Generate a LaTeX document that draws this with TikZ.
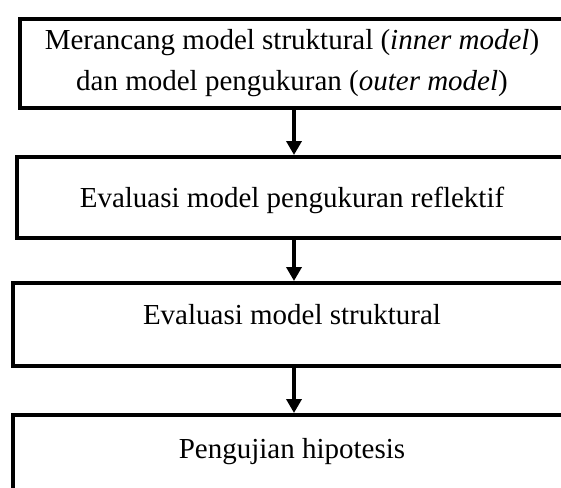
\documentclass[tikz,border=0pt]{standalone}
\usepackage{fontspec}
\setmainfont{Liberation Serif}
\usetikzlibrary{arrows.meta}
\begin{document}
\begin{tikzpicture}[x=1pt,y=-1pt,
  box/.style={draw, line width=4pt, inner sep=0pt, anchor=north west},
  lbl/.style={font=\fontsize{29}{40}\selectfont, inner sep=0pt, anchor=base},
  flow/.style={line width=3.5pt, -{Triangle[length=14pt,width=15pt]}}]
\useasboundingbox (0,0) rectangle (561,487);
\clip (0,0) rectangle (561,487);
\node[box, minimum width=548pt, minimum height=89pt] (b1) at (18,17) {};
\node[box, minimum width=554pt, minimum height=81pt] (b2) at (15,155) {};
\node[box, minimum width=562pt, minimum height=83pt] (b3) at (11,281) {};
\node[box, minimum width=562pt, minimum height=110pt] (b4) at (11,413) {};
\node[lbl] (t1a) at (292,49) {Merancang model struktural (\textit{inner model})};
\node[lbl] (t1b) at (292,90) {dan model pengukuran (\textit{outer model})};
\node[lbl] (t2) at (292,207) {Evaluasi model pengukuran reflektif};
\node[lbl] (t3) at (292,324) {Evaluasi model struktural};
\node[lbl] (t4) at (292,458) {Pengujian hipotesis};
\draw[flow] (b1.south) -- (b2.north);
\draw[flow] (b2.south) -- (b3.north);
\draw[flow] (b3.south) -- (b4.north);
\end{tikzpicture}
\end{document}
